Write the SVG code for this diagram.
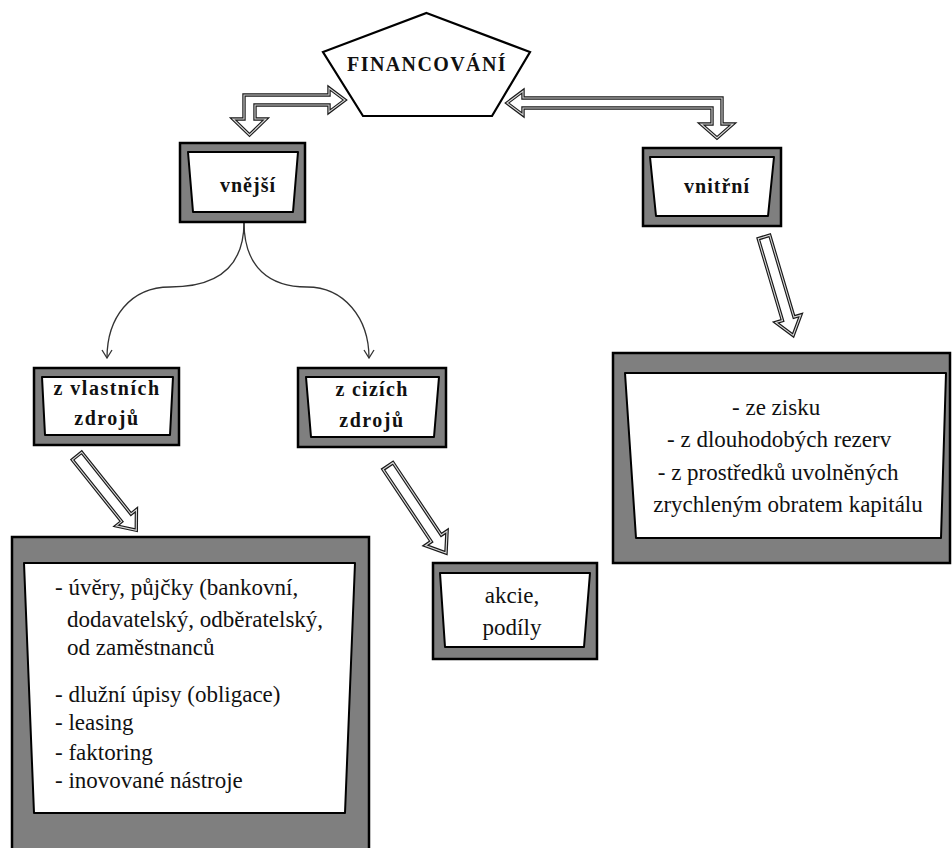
<svg xmlns="http://www.w3.org/2000/svg" width="952" height="848" viewBox="0 0 952 848">
  <defs>
    <style>
      .frame { fill: #7f7f7f; stroke: #000; stroke-width: 2.5; }
      .panel { fill: #fff; stroke: #000; stroke-width: 2; stroke-linejoin: round; }
      .blk { fill: #fff; stroke: #1a1a1a; stroke-width: 3.4; stroke-linejoin: miter; }
      .blk-in { fill: none; stroke: #d8d8d8; stroke-width: 1.1; stroke-linejoin: miter; }
      .curve { fill: none; stroke: #333; stroke-width: 1.3; }
      .lbl { font-family: "Liberation Serif", "Times New Roman", serif; font-weight: bold; font-size: 20px; fill: #111; }
      .txt { font-family: "Liberation Serif", "Times New Roman", serif; font-size: 23px; fill: #111; }
    </style>
    <!-- open V head, drawn along +x so orient="auto" follows the path -->
    <marker id="vhead" viewBox="0 0 12 12" refX="11" refY="6" markerWidth="12" markerHeight="12" markerUnits="userSpaceOnUse" orient="auto">
      <path d="M3,1 L11,6 L3,11" fill="none" stroke="#333" stroke-width="1.3"/>
    </marker>
    <polygon id="diag" points="0,-6 79,-6 79,-13 95,0 79,13 79,6 0,6"/>
  </defs>

  <rect width="952" height="848" fill="#fff"/>

  <!-- connectors -->
  <g id="connectors">
    <!-- double block arrow to the left branch -->
    <polygon class="blk" points="244,95 329,95 329,88 345,100 329,112 329,105 255,105 255,119 266,119 249.5,135 233,119 244,119"/>
    <polygon class="blk-in" points="244,95 329,95 329,88 345,100 329,112 329,105 255,105 255,119 266,119 249.5,135 233,119 244,119"/>
    <!-- double block arrow to the right branch -->
    <polygon class="blk" points="722,98 523,98 523,91 507,103 523,115 523,108 712,108 712,124 701,124 717,138 733,124 722,124"/>
    <polygon class="blk-in" points="722,98 523,98 523,91 507,103 523,115 523,108 712,108 712,124 701,124 717,138 733,124 722,124"/>

    <!-- curved splits from "vnější" -->
    <path class="curve" d="M244,222 C244,268 216,287 170,287 C130,287 107,318 107,358" marker-end="url(#vhead)"/>
    <path class="curve" d="M244,222 C244,268 270,287 307,287 C344,287 369,318 369,358" marker-end="url(#vhead)"/>

    <!-- diagonal block arrows -->
    <g transform="translate(77,456) rotate(51.4)">
      <use href="#diag" class="blk"/>
      <use href="#diag" class="blk-in"/>
    </g>
    <g transform="translate(388,466) rotate(56.3) scale(1.1,1)">
      <use href="#diag" class="blk"/>
      <use href="#diag" class="blk-in"/>
    </g>
    <g transform="translate(764,237) rotate(73.5) scale(1.08,1)">
      <use href="#diag" class="blk"/>
      <use href="#diag" class="blk-in"/>
    </g>
  </g>

  <!-- root -->
  <g id="financovani">
    <polygon points="426.5,13 530,52 492,116 363,116 323,52" fill="#fff" stroke="#000" stroke-width="2.2" stroke-linejoin="miter"/>
    <text class="lbl" x="427" y="71" text-anchor="middle" letter-spacing="1.4">FINANCOVÁNÍ</text>
  </g>

  <g id="vnejsi">
    <rect class="frame" x="180" y="143" width="125" height="79"/>
    <polygon class="panel" points="188,152 298,152 293,212 193,212"/>
    <text class="lbl" x="248" y="192" text-anchor="middle" font-size="22" letter-spacing="1">vnější</text>
  </g>

  <g id="vnitrni">
    <rect class="frame" x="643" y="148" width="138" height="78"/>
    <polygon class="panel" points="650,157 774,157 768,216 656,216"/>
    <text class="lbl" x="717" y="193" text-anchor="middle" font-size="22" letter-spacing="1">vnitřní</text>
  </g>

  <g id="vlastni">
    <rect class="frame" x="34" y="368" width="145" height="77"/>
    <polygon class="panel" points="42,377 173,377 170,435 45,435"/>
    <text class="lbl" x="107" y="395" text-anchor="middle" letter-spacing="1.5">z vlastních</text>
    <text class="lbl" x="107" y="425" text-anchor="middle" letter-spacing="1.5">zdrojů</text>
  </g>

  <g id="cizi">
    <rect class="frame" x="298" y="368" width="148" height="79"/>
    <polygon class="panel" points="306,377 439,377 434,437 311,437"/>
    <text class="lbl" x="372" y="396" text-anchor="middle" letter-spacing="1.3">z cizích</text>
    <text class="lbl" x="372" y="427" text-anchor="middle" letter-spacing="1.5">zdrojů</text>
  </g>

  <g id="akcie">
    <rect class="frame" x="433" y="563" width="164" height="96"/>
    <polygon class="panel" points="440,573 590,573 584,647 445,647"/>
    <text class="txt" x="512" y="603" text-anchor="middle">akcie,</text>
    <text class="txt" x="512" y="635" text-anchor="middle">podíly</text>
  </g>

  <g id="interni-zdroje">
    <rect class="frame" x="613" y="353" width="337" height="210"/>
    <polygon class="panel" points="625,373 946,373 941,538 636,538"/>
    <text class="txt" text-anchor="middle">
      <tspan x="779" y="415">- ze zisku</tspan>
      <tspan x="782" y="447">- z dlouhodobých rezerv</tspan>
      <tspan x="781" y="480">- z prostředků uvolněných</tspan>
      <tspan x="788" y="512">zrychleným obratem kapitálu</tspan>
    </text>
  </g>

  <g id="cizi-zdroje">
    <rect class="frame" x="12" y="537" width="357" height="330"/>
    <polygon class="panel" points="24,563 355,563 345,813 34,813"/>
    <text class="txt">
      <tspan x="55" y="595">- úvěry, půjčky (bankovní,</tspan>
      <tspan x="67" y="627">dodavatelský, odběratelský,</tspan>
      <tspan x="67" y="655">od zaměstnanců</tspan>
      <tspan x="55" y="702">- dlužní úpisy (obligace)</tspan>
      <tspan x="55" y="730">- leasing</tspan>
      <tspan x="55" y="760">- faktoring</tspan>
      <tspan x="55" y="788">- inovované nástroje</tspan>
    </text>
  </g>
</svg>
